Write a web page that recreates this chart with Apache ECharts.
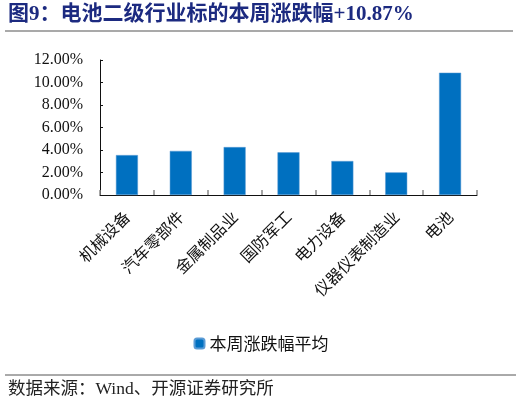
<!DOCTYPE html>
<html>
<head>
<meta charset="utf-8">
<script src="https://cdn.jsdelivr.net/npm/echarts@6/dist/echarts.min.js"></script>
<style>
    html, body { margin: 0; padding: 0; background: #fff; }
    #myChart { width: 522px; height: 405px; }
</style>
</head>
<body>
<div id="myChart"></div>
<script>
// 行业名称
var categories = ['机械设备', '汽车零部件', '金属制品业', '国防军工', '电力设备', '仪器仪表制造业', '电池'];
// 本周涨跌幅平均 (%)
var weekChange = [3.55, 3.92, 4.26, 3.79, 3.02, 2.01, 10.87];
var yTicks = [0, 2, 4, 6, 8, 10, 12];

var serif = '"Liberation Serif", "Noto Sans CJK SC", serif';
var cjk = '"Noto Sans CJK SC", sans-serif';

var myChart = echarts.init(document.getElementById('myChart'));
var option = {
    backgroundColor: '#fff',
    animation: false,
    grid: {
        top: 60,
        right: 45,
        bottom: 210,
        left: 100
    },
    graphic: [
        {   // 标题
            type: 'text',
            left: 8,
            top: 4,
            style: {
                text: '图9：电池二级行业标的本周涨跌幅+10.87%',
                fontSize: 21,
                fontWeight: 'bold',
                fontFamily: serif,
                fill: '#1c2a80'
            }
        },
        {
            type: 'line',
            shape: { x1: 5, y1: 31, x2: 513, y2: 31 },
            style: { stroke: '#8c8c8c', lineWidth: 1.5 }
        },
        {
            type: 'line',
            shape: { x1: 5, y1: 375, x2: 516, y2: 375 },
            style: { stroke: '#555', lineWidth: 1 }
        },
        {   // 数据来源
            type: 'text',
            left: 8,
            top: 381,
            style: {
                text: '数据来源：Wind、开源证券研究所',
                fontSize: 17.5,
                fontFamily: serif,
                fill: '#222'
            }
        }
    ],
    legend: {
        data: ['本周涨跌幅平均'],
        left: 'center',
        top: 330,
        itemWidth: 10,
        itemHeight: 10,
        itemGap: 6,
        textStyle: { fontSize: 17, fontFamily: cjk, color: '#111' }
    },
    xAxis: {
        type: 'category',
        data: categories,
        axisLine: { show: true, lineStyle: { color: '#111', width: 1 } },
        axisTick: {
            show: true,
            inside: true,
            length: 5,
            lineStyle: { color: '#888', width: 1.5 }
        },
        axisLabel: {
            interval: 0,
            rotate: 45,
            margin: 19,
            fontSize: 16,
            fontFamily: cjk,
            color: '#111'
        }
    },
    yAxis: {
        type: 'value',
        min: 0,
        max: 12,
        interval: 2,
        splitLine: { show: false },
        axisLine: { show: true, lineStyle: { color: '#111', width: 1 } },
        axisTick: {
            show: true,
            inside: true,
            length: 3,
            lineStyle: { color: '#111' }
        },
        axisLabel: {
            margin: 17,
            fontSize: 16,
            fontFamily: serif,
            color: '#111',
            formatter: function (value) {
                return yTicks.indexOf(value) >= 0 ? value.toFixed(2) + '%' : '';
            }
        }
    },
    series: [
        {
            name: '本周涨跌幅平均',
            type: 'bar',
            data: weekChange,
            barWidth: 22,
            itemStyle: {
                color: '#0070C0',
                borderColor: '#5b9bd5',
                borderWidth: 0.5
            }
        }
    ]
};
myChart.setOption(option);
</script>
</body>
</html>
